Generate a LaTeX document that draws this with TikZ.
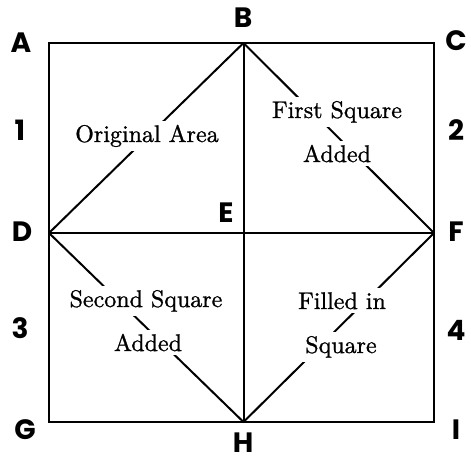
\documentclass[tikz,border=0pt]{standalone}
\usepackage{fontspec}
\newfontfamily\markfont{Poppins}
\newfontfamily\areafont{lmroman10-regular.otf}[FakeBold=1]
\usepackage{tikz}
\usetikzlibrary{positioning,calc}

\begin{document}
\begin{tikzpicture}[
  x=1pt, y=-1pt,
  edge/.style={line width=2pt, color=black, line cap=round},
  pointlbl/.style={font=\markfont\bfseries\fontsize{28}{30}\selectfont, inner sep=0pt},
  area/.style={fill=white, anchor=base, inner sep=4pt, font=\areafont\fontsize{24}{28}\selectfont},
]
\useasboundingbox (0,0) rectangle (471,461);

% ─── Corners and midpoints of the big square ───
\coordinate (A) at (49,43);
\coordinate (B) at (243.5,43);
\coordinate (C) at (434,43);
\coordinate (D) at (49,233);
\coordinate (E) at (243.5,233);
\coordinate (F) at (434,233);
\coordinate (G) at (49,422);
\coordinate (H) at (243.5,422);
\coordinate (I) at (434,422);

% ─── Outline, cross and inner diamond ───
\draw[edge] (A) -- (C) -- (I) -- (G) -- cycle;
\draw[edge] (B) -- (H);
\draw[edge] (D) -- (F);
\draw[edge] (D) -- (B);
\draw[edge] (B) -- (F);
\draw[edge] (D) -- (H);
\draw[edge] (H) -- (F);

% ─── Letters at the points ───
\node[pointlbl] (labA) at (21,43)   {A};
\node[pointlbl] (labB) at (243,18)  {B};
\node[pointlbl] (labC) at (456,41)  {C};
\node[pointlbl] (labD) at (22,232)  {D};
\node[pointlbl] (labE) at (226,213) {E};
\node[pointlbl] (labF) at (456,232) {F};
\node[pointlbl] (labG) at (25,430)  {G};
\node[pointlbl] (labH) at (243,443) {H};
\node[pointlbl] (labI) at (456,430) {I};

% ─── Numbers of the four small squares ───
\node[pointlbl] (num1) at (20,130)  {1};
\node[pointlbl] (num2) at (456,130) {2};
\node[pointlbl] (num3) at (20,328)  {3};
\node[pointlbl] (num4) at (456,330) {4};

% ─── Labels set over the diagonals ───
\node[area] (orig)   at (147,142) {Original Area};
\node[area] (first)  at (337,118) {First Square};
\node[area] (firstb) at (337,162) {Added};
\node[area] (second) at (146,307) {Second Square};
\node[area] (secb)   at (148,351) {Added};
\node[area] (fill)   at (342,309) {Filled in};
\node[area] (fillb)  at (341,353) {Square};

\end{tikzpicture}
\end{document}
